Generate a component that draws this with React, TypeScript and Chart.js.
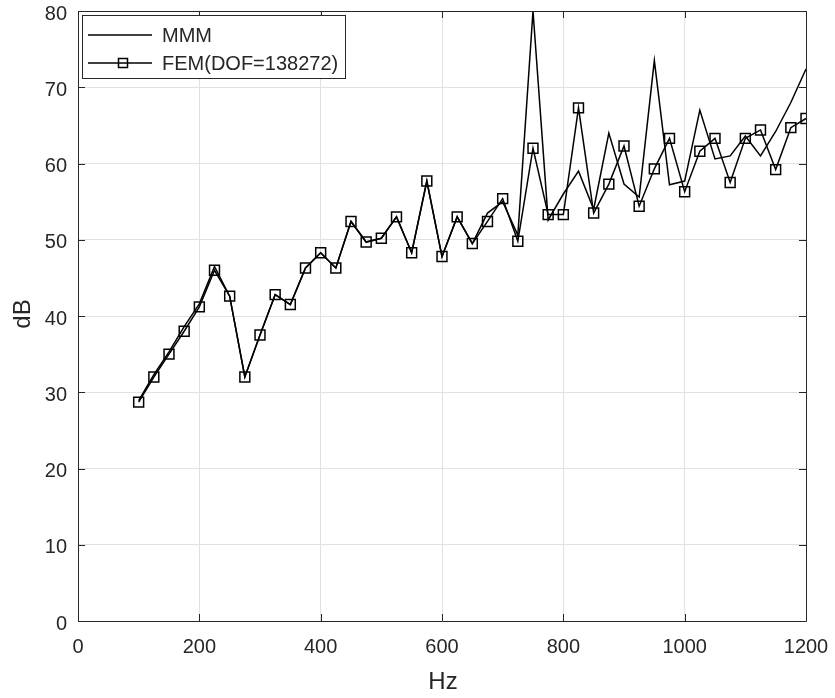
import React, { useEffect, useRef } from 'react';
import { Chart, registerables } from 'chart.js';

Chart.register(...registerables);

const freqs = [100, 125, 150, 175, 200, 225, 250, 275, 300, 325, 350, 375, 400, 425, 450, 475, 500, 525, 550, 575, 600, 625, 650, 675, 700, 725, 750, 775, 800, 825, 850, 875, 900, 925, 950, 975, 1000, 1025, 1050, 1075, 1100, 1125, 1150, 1175, 1200];

const mmmValues = [28.9, 32.3, 35.3, 38.6, 41.6, 46.5, 42.6, 32.0, 37.5, 42.8, 41.5, 46.3, 48.3, 46.3, 52.4, 49.7, 50.2, 53.0, 48.3, 57.7, 47.8, 53.0, 49.5, 53.5, 55.0, 50.6, 80.0, 52.6, 56.0, 59.0, 54.0, 64.0, 57.3, 55.6, 73.5, 57.2, 57.7, 67.0, 60.6, 61.0, 63.6, 61.0, 64.2, 68.0, 72.4];

const femValues = [28.7, 32.0, 35.0, 38.0, 41.2, 46.0, 42.6, 32.0, 37.5, 42.8, 41.5, 46.3, 48.3, 46.3, 52.4, 49.7, 50.2, 53.0, 48.3, 57.7, 47.8, 53.0, 49.5, 52.4, 55.4, 49.8, 62.0, 53.3, 53.3, 67.3, 53.5, 57.3, 62.3, 54.4, 59.3, 63.3, 56.3, 61.6, 63.3, 57.5, 63.3, 64.4, 59.2, 64.7, 65.9];

const xTicks = [0, 200, 400, 600, 800, 1000, 1200];
const yTicks = [0, 10, 20, 30, 40, 50, 60, 70, 80];

const seriesNames = ['MMM', 'FEM(DOF=138272)'];
const axisTitles = { x: 'Hz', y: 'dB' };

const FONT = '"Liberation Sans", Arial, sans-serif';
const TEXT = '#262626';

const framePlugin = {
  id: 'matlabFrame',
  afterDraw(chart: any) {
    const { ctx, chartArea } = chart;
    const { left, right, top, bottom } = chartArea;
    const xs = chart.scales.x;
    const ys = chart.scales.y;
    ctx.save();
    ctx.strokeStyle = TEXT;
    ctx.lineWidth = 1;
    ctx.beginPath();
    ctx.rect(Math.round(left) + 0.5, Math.round(top) + 0.5, Math.round(right - left), Math.round(bottom - top));
    ctx.stroke();
    const tl = 7;
    ctx.beginPath();
    xTicks.forEach((t) => {
      const px = Math.round(xs.getPixelForValue(t)) + 0.5;
      ctx.moveTo(px, bottom);
      ctx.lineTo(px, bottom - tl);
      ctx.moveTo(px, top);
      ctx.lineTo(px, top + tl);
    });
    yTicks.forEach((t) => {
      const py = Math.round(ys.getPixelForValue(t)) + 0.5;
      ctx.moveTo(left, py);
      ctx.lineTo(left + tl, py);
      ctx.moveTo(right, py);
      ctx.lineTo(right - tl, py);
    });
    ctx.stroke();

    // axis titles
    ctx.fillStyle = TEXT;
    ctx.font = `24px ${FONT}`;
    ctx.textAlign = 'center';
    ctx.textBaseline = 'middle';
    ctx.fillText(axisTitles.x, (left + right) / 2 + 1, 682);
    ctx.save();
    ctx.translate(23, 314);
    ctx.rotate(-Math.PI / 2);
    ctx.fillText(axisTitles.y, 0, 0);
    ctx.restore();

    // legend
    const bx = 82, by = 15, bw = 263, bh = 63;
    ctx.fillStyle = '#ffffff';
    ctx.fillRect(bx, by, bw, bh);
    ctx.strokeStyle = TEXT;
    ctx.lineWidth = 1;
    ctx.strokeRect(bx + 0.5, by + 0.5, bw, bh);
    const rows = [35, 63];
    ctx.strokeStyle = '#000';
    ctx.lineWidth = 1.5;
    rows.forEach((ry, i) => {
      ctx.beginPath();
      ctx.moveTo(88, ry);
      ctx.lineTo(152, ry);
      ctx.stroke();
      if (i === 1) {
        ctx.strokeRect(123 - 4.5, ry - 4.5, 9, 9);
      }
      ctx.fillStyle = TEXT;
      ctx.font = `20px ${FONT}`;
      ctx.textAlign = 'left';
      ctx.textBaseline = 'middle';
      ctx.fillText(seriesNames[i], 162, ry + 1);
    });
    ctx.restore();
  },
};

export default function App() {
  const ref = useRef<HTMLCanvasElement>(null);
  useEffect(() => {
    if (!ref.current) return;
    const chart = new Chart(ref.current, {
      type: 'line',
      data: {
        datasets: [
          {
            label: seriesNames[0],
            data: freqs.map((f, i) => ({ x: f, y: mmmValues[i] })),
            borderColor: '#000',
            borderWidth: 1.5,
            pointRadius: 0,
            tension: 0,
            fill: false,
          },
          {
            label: seriesNames[1],
            data: freqs.map((f, i) => ({ x: f, y: femValues[i] })),
            borderColor: '#000',
            borderWidth: 1.5,
            pointStyle: 'rect',
            pointRadius: 7,
            pointBorderWidth: 1.5,
            pointBorderColor: '#000',
            pointBackgroundColor: 'rgba(0,0,0,0)',
            tension: 0,
            fill: false,
          },
        ],
      },
      options: {
        animation: false,
        responsive: false,
        layout: { padding: { top: 11, right: 29, left: 0, bottom: 0 } },
        plugins: { legend: { display: false }, tooltip: { enabled: false } },
        scales: {
          x: {
            type: 'linear',
            min: 0,
            max: 1200,
            afterBuildTicks: (s: any) => { s.ticks = xTicks.map((v) => ({ value: v })); },
            afterFit: (s: any) => { s.height = 77; s.paddingLeft = 0; s.paddingRight = 0; },
            grid: { color: '#e1e1e1', drawTicks: false, lineWidth: 1 },
            border: { display: false },
            ticks: { color: TEXT, font: { family: FONT, size: 20 }, padding: 14, maxRotation: 0, callback: (v: any) => String(v) },
          },
          y: {
            type: 'linear',
            min: 0,
            max: 80,
            afterBuildTicks: (s: any) => { s.ticks = yTicks.map((v) => ({ value: v })); },
            afterFit: (s: any) => { s.width = 78; s.paddingTop = 0; s.paddingBottom = 0; },
            grid: { color: '#e1e1e1', drawTicks: false, lineWidth: 1 },
            border: { display: false },
            ticks: { color: TEXT, font: { family: FONT, size: 20 }, padding: 11, labelOffset: 3, callback: (v: any) => String(v) },
          },
        },
      },
      plugins: [framePlugin],
    });
    return () => chart.destroy();
  }, []);
  return (
    <div style={{ position: 'absolute', left: 0, top: 0, width: 835, height: 698, background: '#fff' }}>
      <canvas ref={ref} width={835} height={698} style={{ display: 'block' }} />
    </div>
  );
}
